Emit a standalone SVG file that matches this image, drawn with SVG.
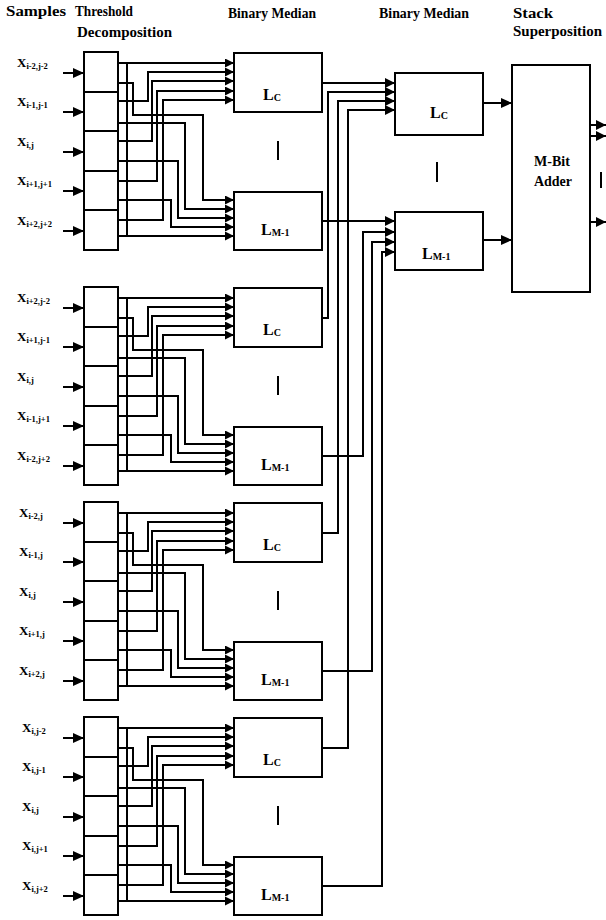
<svg xmlns="http://www.w3.org/2000/svg" width="606" height="920" viewBox="0 0 606 920">
<style>
.ln{fill:none;stroke:#000;stroke-width:2}
.bx{fill:#fff;stroke:#000;stroke-width:2}
.dv{stroke:#000;stroke-width:2}
.el{stroke:#000;stroke-width:2}
.hd{font-family:"Liberation Serif","Times New Roman",serif;font-weight:bold;font-size:15px;fill:#000}
.xl{font-family:"Liberation Serif","Times New Roman",serif;font-weight:bold;font-size:13px;fill:#000}
.xs{font-size:8.5px}
.lb{font-family:"Liberation Serif","Times New Roman",serif;font-weight:bold;font-size:16px;fill:#000}
.ls{font-size:10px}
.ad{font-family:"Liberation Serif","Times New Roman",serif;font-weight:bold;font-size:14px;fill:#000;text-anchor:middle}
</style>
<defs>
<marker id="a" markerUnits="userSpaceOnUse" markerWidth="9" markerHeight="9" refX="9" refY="4.5" orient="auto"><path d="M0,0 L9,4.5 L0,9z" fill="#000"/></marker>
<marker id="b" markerUnits="userSpaceOnUse" markerWidth="11" markerHeight="10" refX="11" refY="5" orient="auto"><path d="M0,0 L11,5 L0,10z" fill="#000"/></marker>
<marker id="c" markerUnits="userSpaceOnUse" markerWidth="10" markerHeight="10" refX="10" refY="5" orient="auto"><path d="M0,0 L10,5 L0,10z" fill="#000"/></marker>
</defs>

<g id="headers">
<text class="hd" x="6" y="16" textLength="60" lengthAdjust="spacingAndGlyphs">Samples</text>
<text class="hd" x="75" y="16" textLength="58" lengthAdjust="spacingAndGlyphs">Threshold</text>
<text class="hd" x="77" y="37" textLength="95" lengthAdjust="spacingAndGlyphs">Decomposition</text>
<text class="hd" x="228" y="18" textLength="88" lengthAdjust="spacingAndGlyphs">Binary Median</text>
<text class="hd" x="379" y="18" textLength="90" lengthAdjust="spacingAndGlyphs">Binary Median</text>
<text class="hd" x="513" y="18" textLength="40" lengthAdjust="spacingAndGlyphs">Stack</text>
<text class="hd" x="513" y="36" textLength="89" lengthAdjust="spacingAndGlyphs">Superposition</text>
</g>

<!-- Cluster 1 -->
<g id="samples1">
<text class="xl" x="17" y="67">X<tspan class="xs" dy="2">i-2,j-2</tspan></text>
<text class="xl" x="17" y="106">X<tspan class="xs" dy="2">i-1,j-1</tspan></text>
<text class="xl" x="17" y="146">X<tspan class="xs" dy="2">i,j</tspan></text>
<text class="xl" x="17" y="185">X<tspan class="xs" dy="2">i+1,j+1</tspan></text>
<text class="xl" x="17" y="225">X<tspan class="xs" dy="2">i+2,j+2</tspan></text>
</g>
<g id="td1">
<rect class="bx" x="84" y="52" width="34" height="198"/>
<path class="dv" d="M84,92 H118 M84,131 H118 M84,171 H118 M84,210 H118"/>
</g>
<g id="lc1"><rect class="bx" x="234" y="53" width="88" height="59"/><text class="lb" x="263" y="100">L<tspan class="ls" dy="1">C</tspan></text></g>
<g id="lm1"><rect class="bx" x="234" y="192" width="88" height="58"/><text class="lb" x="261" y="235">L<tspan class="ls" dy="1">M-1</tspan></text></g>
<line class="el" x1="278" y1="141" x2="278" y2="160"/>

<!-- Cluster 2 -->
<g id="samples2">
<text class="xl" x="17" y="302">X<tspan class="xs" dy="2">i+2,j-2</tspan></text>
<text class="xl" x="17" y="341">X<tspan class="xs" dy="2">i+1,j-1</tspan></text>
<text class="xl" x="17" y="381">X<tspan class="xs" dy="2">i,j</tspan></text>
<text class="xl" x="17" y="420">X<tspan class="xs" dy="2">i-1,j+1</tspan></text>
<text class="xl" x="17" y="460">X<tspan class="xs" dy="2">i-2,j+2</tspan></text>
</g>
<g id="td2" transform="translate(0,235)">
<rect class="bx" x="84" y="52" width="34" height="198"/>
<path class="dv" d="M84,92 H118 M84,131 H118 M84,171 H118 M84,210 H118"/>
</g>
<g id="lc2" transform="translate(0,235)"><rect class="bx" x="234" y="53" width="88" height="59"/><text class="lb" x="263" y="100">L<tspan class="ls" dy="1">C</tspan></text></g>
<g id="lm2" transform="translate(0,235)"><rect class="bx" x="234" y="192" width="88" height="58"/><text class="lb" x="261" y="235">L<tspan class="ls" dy="1">M-1</tspan></text></g>
<line class="el" x1="278" y1="376" x2="278" y2="395"/>

<!-- Cluster 3 -->
<g id="samples3">
<text class="xl" x="19" y="517">X<tspan class="xs" dy="2">i-2,j</tspan></text>
<text class="xl" x="19" y="556">X<tspan class="xs" dy="2">i-1,j</tspan></text>
<text class="xl" x="19" y="596">X<tspan class="xs" dy="2">i,j</tspan></text>
<text class="xl" x="19" y="635">X<tspan class="xs" dy="2">i+1,j</tspan></text>
<text class="xl" x="19" y="675">X<tspan class="xs" dy="2">i+2,j</tspan></text>
</g>
<g id="td3" transform="translate(0,450)">
<rect class="bx" x="84" y="52" width="34" height="198"/>
<path class="dv" d="M84,92 H118 M84,131 H118 M84,171 H118 M84,210 H118"/>
</g>
<g id="lc3" transform="translate(0,450)"><rect class="bx" x="234" y="53" width="88" height="59"/><text class="lb" x="263" y="100">L<tspan class="ls" dy="1">C</tspan></text></g>
<g id="lm3" transform="translate(0,450)"><rect class="bx" x="234" y="192" width="88" height="58"/><text class="lb" x="261" y="235">L<tspan class="ls" dy="1">M-1</tspan></text></g>
<line class="el" x1="278" y1="591" x2="278" y2="610"/>

<!-- Cluster 4 -->
<g id="samples4">
<text class="xl" x="22" y="732">X<tspan class="xs" dy="2">i,j-2</tspan></text>
<text class="xl" x="22" y="771">X<tspan class="xs" dy="2">i,j-1</tspan></text>
<text class="xl" x="22" y="811">X<tspan class="xs" dy="2">i,j</tspan></text>
<text class="xl" x="22" y="850">X<tspan class="xs" dy="2">i,j+1</tspan></text>
<text class="xl" x="22" y="890">X<tspan class="xs" dy="2">i,j+2</tspan></text>
</g>
<g id="td4" transform="translate(0,665)">
<rect class="bx" x="84" y="52" width="34" height="198"/>
<path class="dv" d="M84,92 H118 M84,131 H118 M84,171 H118 M84,210 H118"/>
</g>
<g id="lc4" transform="translate(0,665)"><rect class="bx" x="234" y="53" width="88" height="59"/><text class="lb" x="263" y="100">L<tspan class="ls" dy="1">C</tspan></text></g>
<g id="lm4" transform="translate(0,665)"><rect class="bx" x="234" y="192" width="88" height="58"/><text class="lb" x="261" y="235">L<tspan class="ls" dy="1">M-1</tspan></text></g>
<line class="el" x1="278" y1="806" x2="278" y2="825"/>

<!-- Second stage -->
<g id="lc-final"><rect class="bx" x="395" y="73" width="88" height="62"/><text class="lb" x="430" y="118">L<tspan class="ls" dy="1">C</tspan></text></g>
<g id="lm-final"><rect class="bx" x="395" y="212" width="88" height="58"/><text class="lb" x="422" y="259">L<tspan class="ls" dy="1">M-1</tspan></text></g>
<line class="el" x1="437" y1="162" x2="437" y2="182"/>

<g id="adder"><rect class="bx" x="512" y="65" width="78" height="227"/>
<text class="ad" x="552" y="166">M-Bit</text>
<text class="ad" x="553" y="186">Adder</text></g>
<line class="el" x1="601" y1="172" x2="601" y2="188"/>

<g id="connectors">
<g id="wires1">
<path class="ln" marker-end="url(#b)" d="M63,73 H84"/>
<path class="ln" marker-end="url(#b)" d="M63,112 H84"/>
<path class="ln" marker-end="url(#b)" d="M63,152 H84"/>
<path class="ln" marker-end="url(#b)" d="M63,191 H84"/>
<path class="ln" marker-end="url(#b)" d="M63,231 H84"/>
<path class="ln" d="M127,63 V236"/>
<path class="ln" marker-end="url(#a)" d="M118,63 H234"/>
<path class="ln" marker-end="url(#a)" d="M118,83 H133 V115 H203 V200 H234"/>
<path class="ln" marker-end="url(#a)" d="M118,101 H148 V72 H234"/>
<path class="ln" marker-end="url(#a)" d="M118,123 H185 V209 H234"/>
<path class="ln" marker-end="url(#a)" d="M118,141 H152 V81 H234"/>
<path class="ln" marker-end="url(#a)" d="M118,161 H178 V218 H234"/>
<path class="ln" marker-end="url(#a)" d="M118,181 H157 V91 H234"/>
<path class="ln" marker-end="url(#a)" d="M118,200 H171 V227 H234"/>
<path class="ln" marker-end="url(#a)" d="M118,220 H163 V100 H234"/>
<path class="ln" marker-end="url(#a)" d="M118,236 H234"/>
</g>
<g id="wires2" transform="translate(0,235)">
<path class="ln" marker-end="url(#b)" d="M63,73 H84"/>
<path class="ln" marker-end="url(#b)" d="M63,112 H84"/>
<path class="ln" marker-end="url(#b)" d="M63,152 H84"/>
<path class="ln" marker-end="url(#b)" d="M63,191 H84"/>
<path class="ln" marker-end="url(#b)" d="M63,231 H84"/>
<path class="ln" d="M127,63 V236"/>
<path class="ln" marker-end="url(#a)" d="M118,63 H234"/>
<path class="ln" marker-end="url(#a)" d="M118,83 H133 V115 H203 V200 H234"/>
<path class="ln" marker-end="url(#a)" d="M118,101 H148 V72 H234"/>
<path class="ln" marker-end="url(#a)" d="M118,123 H185 V209 H234"/>
<path class="ln" marker-end="url(#a)" d="M118,141 H152 V81 H234"/>
<path class="ln" marker-end="url(#a)" d="M118,161 H178 V218 H234"/>
<path class="ln" marker-end="url(#a)" d="M118,181 H157 V91 H234"/>
<path class="ln" marker-end="url(#a)" d="M118,200 H171 V227 H234"/>
<path class="ln" marker-end="url(#a)" d="M118,220 H163 V100 H234"/>
<path class="ln" marker-end="url(#a)" d="M118,236 H234"/>
</g>
<g id="wires3" transform="translate(0,450)">
<path class="ln" marker-end="url(#b)" d="M63,73 H84"/>
<path class="ln" marker-end="url(#b)" d="M63,112 H84"/>
<path class="ln" marker-end="url(#b)" d="M63,152 H84"/>
<path class="ln" marker-end="url(#b)" d="M63,191 H84"/>
<path class="ln" marker-end="url(#b)" d="M63,231 H84"/>
<path class="ln" d="M127,63 V236"/>
<path class="ln" marker-end="url(#a)" d="M118,63 H234"/>
<path class="ln" marker-end="url(#a)" d="M118,83 H133 V115 H203 V200 H234"/>
<path class="ln" marker-end="url(#a)" d="M118,101 H148 V72 H234"/>
<path class="ln" marker-end="url(#a)" d="M118,123 H185 V209 H234"/>
<path class="ln" marker-end="url(#a)" d="M118,141 H152 V81 H234"/>
<path class="ln" marker-end="url(#a)" d="M118,161 H178 V218 H234"/>
<path class="ln" marker-end="url(#a)" d="M118,181 H157 V91 H234"/>
<path class="ln" marker-end="url(#a)" d="M118,200 H171 V227 H234"/>
<path class="ln" marker-end="url(#a)" d="M118,220 H163 V100 H234"/>
<path class="ln" marker-end="url(#a)" d="M118,236 H234"/>
</g>
<g id="wires4" transform="translate(0,665)">
<path class="ln" marker-end="url(#b)" d="M63,73 H84"/>
<path class="ln" marker-end="url(#b)" d="M63,112 H84"/>
<path class="ln" marker-end="url(#b)" d="M63,152 H84"/>
<path class="ln" marker-end="url(#b)" d="M63,191 H84"/>
<path class="ln" marker-end="url(#b)" d="M63,231 H84"/>
<path class="ln" d="M127,63 V236"/>
<path class="ln" marker-end="url(#a)" d="M118,63 H234"/>
<path class="ln" marker-end="url(#a)" d="M118,83 H133 V115 H203 V200 H234"/>
<path class="ln" marker-end="url(#a)" d="M118,101 H148 V72 H234"/>
<path class="ln" marker-end="url(#a)" d="M118,123 H185 V209 H234"/>
<path class="ln" marker-end="url(#a)" d="M118,141 H152 V81 H234"/>
<path class="ln" marker-end="url(#a)" d="M118,161 H178 V218 H234"/>
<path class="ln" marker-end="url(#a)" d="M118,181 H157 V91 H234"/>
<path class="ln" marker-end="url(#a)" d="M118,200 H171 V227 H234"/>
<path class="ln" marker-end="url(#a)" d="M118,220 H163 V100 H234"/>
<path class="ln" marker-end="url(#a)" d="M118,236 H234"/>
</g>
<g id="stage2">
<path class="ln" marker-end="url(#c)" d="M322,83 H395"/>
<path class="ln" marker-end="url(#c)" d="M322,318 H328 V92 H395"/>
<path class="ln" marker-end="url(#c)" d="M322,533 H338 V101 H395"/>
<path class="ln" marker-end="url(#c)" d="M322,748 H348 V110 H395"/>
<path class="ln" marker-end="url(#c)" d="M322,221 H395"/>
<path class="ln" marker-end="url(#c)" d="M322,456 H363 V232 H395"/>
<path class="ln" marker-end="url(#c)" d="M322,671 H372 V242 H395"/>
<path class="ln" marker-end="url(#c)" d="M322,886 H382 V252 H395"/>
<path class="ln" marker-end="url(#b)" d="M483,103 H512"/>
<path class="ln" marker-end="url(#b)" d="M483,240 H512"/>
<path class="ln" marker-end="url(#c)" d="M590,125 H606"/>
<path class="ln" marker-end="url(#c)" d="M590,136 H606"/>
<path class="ln" marker-end="url(#c)" d="M590,222 H606"/>
</g>
</g>
</svg>
